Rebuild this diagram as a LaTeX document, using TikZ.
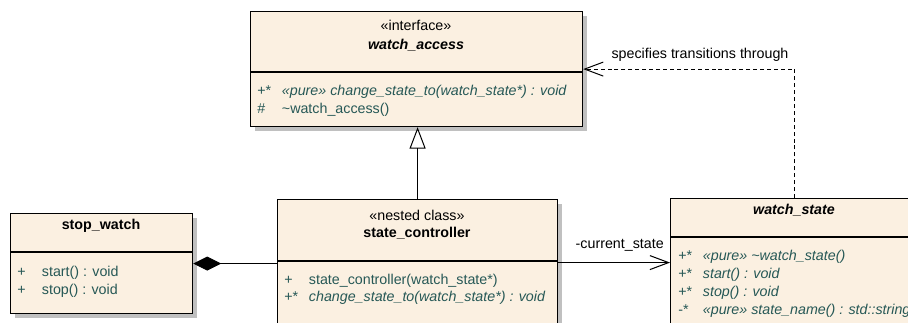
\documentclass[tikz,border=0pt]{standalone}
\usepackage{fontspec}
\setmainfont{Liberation Sans}
\usetikzlibrary{
  arrows.meta,
  positioning,
  shadows,
  calc
}
\definecolor{umlfill}{RGB}{251,240,225}
\definecolor{umlteal}{RGB}{38,88,86}
\definecolor{umlshadow}{RGB}{192,192,192}
\tikzset{
  classbox/.style={
    rectangle, draw=black, line width=0.9pt, fill=umlfill,
    anchor=north west, inner sep=0pt,
    drop shadow={shadow xshift=3pt, shadow yshift=-3pt,
                 fill=umlshadow, opacity=1}
  },
  title/.style={
    font=\bfseries, inner sep=0pt,
    text height=0.75em, text depth=0.25em
  },
  stereo/.style={title, font=\mdseries},
  op/.style={
    anchor=west, inner sep=0pt, text=umlteal,
    text height=0.75em, text depth=0.25em
  },
  lbl/.style={inner sep=0pt, text height=0.75em, text depth=0.25em},
  sep/.style={line width=0.9pt},
  inherit/.style={-{Triangle[open, length=16pt, width=12pt]}, line width=0.75pt},
  compose/.style={-{Diamond[length=21pt, width=10.5pt]}, line width=0.75pt},
  assoc/.style={-{Straight Barb[length=14pt, width=10.5pt]}, line width=0.75pt},
  depend/.style={assoc, dash pattern=on 3pt off 2.2pt}
}
\newcommand{\op}[2]{\makebox[18.5pt][l]{#1}#2}

\begin{document}
\fontsize{10.7}{13}\selectfont
\begin{tikzpicture}[x=0.75pt, y=-0.75pt]
\useasboundingbox (0,0) rectangle (908,323);
\clip (0,0) rectangle (908,323);

% interface
\node[classbox, minimum width=332*0.75pt, minimum height=115*0.75pt]
  (access) at (250,11) {};
\node[stereo] (accessst) at (416,27) {«interface»};
\node[title, font=\bfseries\itshape] (accessname) at (416,46) {watch\_access};
\draw[sep] (access.west |- 0,72) -- (access.east |- 0,72);
\node[op] (access1) at (257,92)
  {\op{+*}{\itshape «pure» change\_state\_to(watch\_state*) : void}};
\node[op] (access2) at (257,110) {\op{\#}{\textasciitilde watch\_access()}};

% stop_watch
\node[classbox, minimum width=182*0.75pt, minimum height=100*0.75pt]
  (sw) at (10,213) {};
\node[title] (swname) at (101,226) {stop\_watch};
\draw[sep] (sw.west |- 0,252) -- (sw.east |- 0,252);
\node[op] (sw1) at (17,273) {\op{+}{start() : void}};
\node[op] (sw2) at (17,291) {\op{+}{stop() : void}};

% nested class
\node[classbox, minimum width=280*0.75pt, minimum height=130*0.75pt]
  (ctrl) at (277,199) {};
\node[stereo] (ctrlst) at (417,217) {«nested class»};
\node[title] (ctrlname) at (417,234) {state\_controller};
\draw[sep] (ctrl.west |- 0,261) -- (ctrl.east |- 0,261);
\node[op] (ctrl1) at (284,281) {\op{+}{state\_controller(watch\_state*)}};
\node[op] (ctrl2) at (284,298)
  {\op{+*}{\itshape change\_state\_to(watch\_state*) : void}};

% abstract state
\node[classbox, minimum width=248*0.75pt, minimum height=128*0.75pt]
  (state) at (670,198) {};
\node[title, font=\bfseries\itshape] (statename) at (794,211) {watch\_state};
\draw[sep] (state.west |- 0,237) -- (state.east |- 0,237);
\node[op] (state1) at (678,257)
  {\op{+*}{\itshape «pure» \textasciitilde watch\_state()}};
\node[op] (state2) at (678,275) {\op{+*}{\itshape start() : void}};
\node[op] (state3) at (678,293) {\op{+*}{\itshape stop() : void}};
\node[op] (state4) at (678,311)
  {\op{-*}{\itshape «pure» state\_name() : std::string}};

% relations
\draw[inherit] (ctrl.north) -- (ctrl.north |- access.south);
\draw[compose] (ctrl.west |- sw.east) -- (sw.east);
\draw[assoc] (ctrl.east |- state.west) -- (state.west);
\node[lbl, anchor=east] (curlbl) at (664,245) {-current\_state};
\draw[depend] (state.north) |- (access.east);
\node[lbl] (deplbl) at (700,55) {specifies transitions through};
\end{tikzpicture}
\end{document}
